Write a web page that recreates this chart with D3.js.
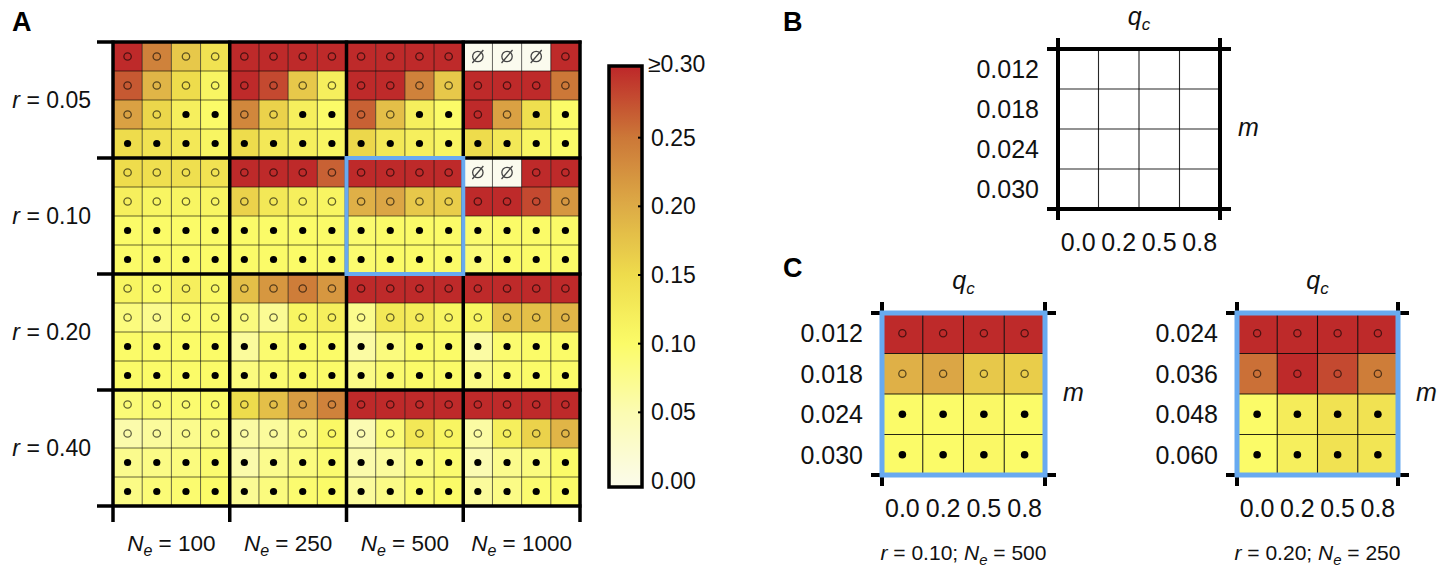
<!DOCTYPE html>
<html><head><meta charset="utf-8">
<script src="https://cdn.jsdelivr.net/npm/d3@7"></script>
<style>
body{margin:0;background:#fff}
svg{display:block}
text{font-family:"Liberation Sans",Arial,Helvetica,sans-serif;fill:#111}
</style>
</head><body><svg id="c" width="1446" height="572"></svg>
<script>
// ---------- data ----------
const rLabels = ["0.05","0.10","0.20","0.40"];
const neLabels = ["100","250","500","1000"];
const qcLabels = ["0.0","0.2","0.5","0.8"];
const mLabelsB = ["0.012","0.018","0.024","0.030"];
const mLabelsC1 = ["0.012","0.018","0.024","0.030"];
const mLabelsC2 = ["0.024","0.036","0.048","0.060"];
const titleC1 = {r:"0.10", ne:"500"};
const titleC2 = {r:"0.20", ne:"250"};
const colorTicks = [0,0.05,0.10,0.15,0.20,0.25,0.30];
const colorTickLabels = ["0.00","0.05","0.10","0.15","0.20","0.25","\u22650.30"];
const colorRange = ["#fbfbe6","#fbfbb2","#fbfb68","#eedc4c","#ddab46","#cc7838","#be2a2a"];

// r = 0.05 (rows: m levels; columns: Ne blocks x qc)
const valuesR005 = [
 [0.30,0.24,0.17,0.14, 0.31,0.31,0.31,0.30, 0.31,0.31,0.31,0.31, null,null,null,0.31],
 [0.27,0.19,0.15,0.11, 0.30,0.28,0.17,0.12, 0.31,0.30,0.24,0.17, 0.31,0.31,0.30,0.25],
 [0.21,0.155,0.12,0.10, 0.235,0.16,0.12,0.10, 0.265,0.18,0.12,0.10, 0.30,0.21,0.145,0.10],
 [0.15,0.14,0.13,0.11, 0.15,0.13,0.12,0.11, 0.155,0.13,0.12,0.11, 0.15,0.13,0.11,0.10]
];
const valuesR010 = [
 [0.15,0.145,0.145,0.14, 0.31,0.31,0.30,0.265, 0.31,0.31,0.31,0.31, null,null,0.31,0.31],
 [0.12,0.11,0.11,0.11, 0.16,0.13,0.12,0.11, 0.195,0.205,0.17,0.165, 0.31,0.31,0.28,0.22],
 [0.10,0.10,0.10,0.10, 0.10,0.10,0.10,0.10, 0.095,0.10,0.10,0.10, 0.095,0.10,0.10,0.10],
 [0.10,0.10,0.10,0.10, 0.10,0.10,0.10,0.10, 0.095,0.10,0.10,0.10, 0.09,0.10,0.10,0.10]
];
const valuesR020 = [
 [0.11,0.10,0.12,0.105, 0.18,0.22,0.245,0.22, 0.31,0.31,0.31,0.31, 0.31,0.31,0.31,0.31],
 [0.085,0.075,0.095,0.095, 0.085,0.07,0.11,0.12, 0.075,0.13,0.125,0.11, 0.11,0.18,0.18,0.19],
 [0.10,0.10,0.10,0.10, 0.065,0.095,0.10,0.10, 0.06,0.085,0.10,0.10, 0.06,0.095,0.10,0.10],
 [0.10,0.10,0.10,0.10, 0.085,0.095,0.10,0.10, 0.08,0.095,0.10,0.10, 0.08,0.095,0.10,0.10]
];
const valuesR040 = [
 [0.09,0.095,0.095,0.10, 0.15,0.18,0.215,0.24, 0.31,0.31,0.31,0.31, 0.31,0.31,0.31,0.31],
 [0.055,0.065,0.075,0.085, 0.06,0.065,0.08,0.105, 0.05,0.09,0.13,0.11, 0.06,0.12,0.16,0.19],
 [0.075,0.08,0.085,0.095, 0.055,0.075,0.085,0.095, 0.055,0.065,0.085,0.095, 0.05,0.075,0.085,0.10],
 [0.08,0.09,0.095,0.10, 0.07,0.085,0.095,0.10, 0.065,0.08,0.095,0.10, 0.065,0.08,0.095,0.10]
];
// markers: o = open circle, f = filled dot, n = no data
const markersR005 = ["oooooooooooonnno","oooooooooooooooo","ooffooffooffooff","ffffffffffffffff"];
const markersR010 = ["oooooooooooonnoo","oooooooooooooooo","ffffffffffffffff","ffffffffffffffff"];
const markersR020 = ["oooooooooooooooo","oooooooooooooooo","ffffffffffffffff","ffffffffffffffff"];
const markersR040 = ["oooooooooooooooo","oooooooooooooooo","ffffffffffffffff","ffffffffffffffff"];

// panel C
const valuesC1 = [
 [0.31,0.31,0.31,0.31],
 [0.195,0.205,0.17,0.165],
 [0.10,0.10,0.105,0.10],
 [0.10,0.10,0.105,0.10]
];
const valuesC2 = [
 [0.31,0.31,0.31,0.31],
 [0.255,0.31,0.28,0.245],
 [0.10,0.125,0.14,0.14],
 [0.10,0.12,0.14,0.135]
];
const markersC = ["oooo","oooo","ffff","ffff"];

// ---------- drawing ----------
const svg = d3.select("#c");
const color = d3.scaleLinear().domain(colorTicks).range(colorRange).clamp(true);
const nullColor = "#fbfbee";
const BLUE = "#68aaf0";

function drawMarkers(g, data, cx, cy, sizes){
  data.forEach(d=>{
    const X = cx(d), Y = cy(d);
    if(d.mk==="o"){
      g.append("circle").attr("cx",X).attr("cy",Y).attr("r",sizes.o)
        .attr("fill","none").attr("stroke","#000").attr("stroke-opacity",0.6).attr("stroke-width",1.3);
    } else if(d.mk==="f"){
      g.append("circle").attr("cx",X).attr("cy",Y).attr("r",sizes.f).attr("fill","#000");
    } else if(d.mk==="n"){
      g.append("circle").attr("cx",X).attr("cy",Y).attr("r",5.2)
        .attr("fill","none").attr("stroke","#444").attr("stroke-width",1.3);
      g.append("line").attr("x1",X-5.5).attr("y1",Y+6.5).attr("x2",X+5.5).attr("y2",Y-6.5)
        .attr("stroke","#444").attr("stroke-width",1.3);
    }
  });
}

// ===== Panel A =====
const allValues = [].concat(valuesR005, valuesR010, valuesR020, valuesR040);
const allMarkers = [].concat(markersR005, markersR010, markersR020, markersR040);
const cellsA = [];
allValues.forEach((row,i)=>row.forEach((v,j)=>cellsA.push({i,j,v,mk:allMarkers[i][j]})));

const ax0=113, ax1=580, ay0=42, ay1=506;
const xA = d3.scaleBand().domain(d3.range(16)).range([ax0,ax1]);
const yA = d3.scaleBand().domain(d3.range(16)).range([ay0,ay1]);
const xBlock = d3.scaleLinear().domain([0,4]).range([ax0,ax1]);
const yBlock = d3.scaleLinear().domain([0,4]).range([ay0,ay1]);

const gA = svg.append("g");
gA.selectAll("rect.cell").data(cellsA).join("rect")
  .attr("x",d=>xA(d.j)).attr("y",d=>yA(d.i))
  .attr("width",xA.bandwidth()).attr("height",yA.bandwidth())
  .attr("fill",d=>d.v==null?nullColor:color(d.v));
d3.range(1,16).forEach(k=>{
  gA.append("line").attr("x1",xA(k)).attr("x2",xA(k)).attr("y1",ay0).attr("y2",ay1)
    .attr("stroke","#000").attr("stroke-opacity",0.6).attr("stroke-width",1);
  gA.append("line").attr("y1",yA(k)).attr("y2",yA(k)).attr("x1",ax0).attr("x2",ax1)
    .attr("stroke","#000").attr("stroke-opacity",0.6).attr("stroke-width",1);
});
drawMarkers(gA, cellsA, d=>xA(d.j)+xA.bandwidth()/2, d=>yA(d.i)+yA.bandwidth()/2, {o:3.7,f:3.6});
d3.range(0,5).forEach(k=>{
  gA.append("line").attr("x1",xBlock(k)).attr("x2",xBlock(k)).attr("y1",ay0-1.5).attr("y2",ay1+16)
    .attr("stroke","#000").attr("stroke-width",3.5);
  gA.append("line").attr("y1",yBlock(k)).attr("y2",yBlock(k)).attr("x1",ax0-16).attr("x2",ax1+1.5)
    .attr("stroke","#000").attr("stroke-width",3.5);
});
gA.append("rect").attr("x",xBlock(2)).attr("y",yBlock(1))
  .attr("width",xBlock(3)-xBlock(2)).attr("height",yBlock(2)-yBlock(1))
  .attr("fill","none").attr("stroke",BLUE).attr("stroke-width",4);

rLabels.forEach((r,k)=>{
  const t = gA.append("text").attr("x",91).attr("y",(yBlock(k)+yBlock(k+1))/2+8)
    .attr("text-anchor","end").style("font-size","23px");
  t.append("tspan").style("font-style","italic").text("r");
  t.append("tspan").text(" = "+r);
});
neLabels.forEach((n,k)=>{
  const t = gA.append("text").attr("x",(xBlock(k)+xBlock(k+1))/2).attr("y",551)
    .attr("text-anchor","middle").style("font-size","22.5px");
  t.append("tspan").style("font-style","italic").text("N");
  t.append("tspan").style("font-style","italic").style("font-size","16px").attr("dy",5).text("e");
  t.append("tspan").attr("dy",-5).text(" = "+n);
});

// colorbar
const cbX=609, cbW=33, cbTop=66, cbBot=487;
const yCb = d3.scaleLinear().domain([0,0.30]).range([481,69]);
const defs = svg.append("defs");
const grad = defs.append("linearGradient").attr("id","cbg")
  .attr("x1",0).attr("y1",0).attr("x2",0).attr("y2",1);
d3.range(0,31).forEach(k=>{
  const v = 0.30 - k*0.01;
  grad.append("stop").attr("offset",(yCb(v)-cbTop)/(cbBot-cbTop)).attr("stop-color",color(v));
});
svg.append("rect").attr("x",cbX).attr("y",cbTop).attr("width",cbW).attr("height",cbBot-cbTop)
  .attr("fill","url(#cbg)");
colorTicks.slice(1,-1).forEach(v=>{
  svg.append("line").attr("x1",cbX+cbW-4).attr("x2",cbX+cbW).attr("y1",yCb(v)).attr("y2",yCb(v))
    .attr("stroke","#000").attr("stroke-width",2);
});
svg.append("rect").attr("x",cbX).attr("y",cbTop).attr("width",cbW).attr("height",cbBot-cbTop)
  .attr("fill","none").attr("stroke","#000").attr("stroke-width",3.5);
colorTicks.forEach((v,k)=>{
  const isTop = k===colorTicks.length-1;
  svg.append("text").attr("x",isTop?648:651).attr("y",yCb(v)+(isTop?3:8))
    .style("font-size","23px").text(colorTickLabels[k]);
});

[["A",12,31],["B",783,31],["C",783,277]].forEach(([s,x,y])=>{
  svg.append("text").attr("x",x).attr("y",y).style("font-size","27px").style("font-weight","bold")
    .style("fill","#000").text(s);
});

// ===== small grids (B, C) =====
function smallGrid(x0,y0,x1,y1,values,markers,mLabels,title,highlight){
  const g = svg.append("g");
  const x = d3.scaleBand().domain(d3.range(4)).range([x0,x1]);
  const y = d3.scaleBand().domain(d3.range(4)).range([y0,y1]);
  const cells=[];
  if(values) values.forEach((row,i)=>row.forEach((v,j)=>cells.push({i,j,v,mk:markers[i][j]})));
  g.selectAll("rect").data(cells).join("rect")
    .attr("x",d=>x(d.j)).attr("y",d=>y(d.i)).attr("width",x.bandwidth()).attr("height",y.bandwidth())
    .attr("fill",d=>color(d.v));
  d3.range(1,4).forEach(k=>{
    g.append("line").attr("x1",x(k)).attr("x2",x(k)).attr("y1",y0).attr("y2",y1)
      .attr("stroke","#000").attr("stroke-width",1.1).attr("stroke-opacity",0.85);
    g.append("line").attr("y1",y(k)).attr("y2",y(k)).attr("x1",x0).attr("x2",x1)
      .attr("stroke","#000").attr("stroke-width",1.1).attr("stroke-opacity",0.85);
  });
  drawMarkers(g, cells, d=>x(d.j)+x.bandwidth()/2, d=>y(d.i)+y.bandwidth()/2, {o:3.6,f:3.8});
  const ext=11;
  [x0,x1].forEach(xx=>g.append("line").attr("x1",xx).attr("x2",xx).attr("y1",y0-ext).attr("y2",y1+ext)
      .attr("stroke","#000").attr("stroke-width",4));
  [y0,y1].forEach(yy=>g.append("line").attr("y1",yy).attr("y2",yy).attr("x1",x0-ext).attr("x2",x1+ext)
      .attr("stroke","#000").attr("stroke-width",4));
  if(highlight){
    g.append("rect").attr("x",x0).attr("y",y0).attr("width",x1-x0).attr("height",y1-y0)
      .attr("fill","none").attr("stroke",BLUE).attr("stroke-width",5);
  }
  mLabels.forEach((m,k)=>{
    g.append("text").attr("x",x0-19).attr("y",y(k)+y.bandwidth()/2+9).attr("text-anchor","end")
      .style("font-size","25px").text(m);
  });
  qcLabels.forEach((q,k)=>{
    g.append("text").attr("x",x(k)+x.bandwidth()/2).attr("y",y1+42).attr("text-anchor","middle")
      .style("font-size","25px").text(q);
  });
  const qt = g.append("text").attr("x",(x0+x1)/2).attr("y",y0-24).attr("text-anchor","middle")
    .style("font-size","25px");
  qt.append("tspan").style("font-style","italic").text("q");
  qt.append("tspan").style("font-style","italic").style("font-size","17px").attr("dy",5).text("c");
  g.append("text").attr("x",x1+18).attr("y",(y0+y1)/2+7).style("font-size","25px")
    .style("font-style","italic").text("m");
  if(title){
    const t = g.append("text").attr("x",(x0+x1)/2).attr("y",560).attr("text-anchor","middle")
      .style("font-size","21px");
    t.append("tspan").style("font-style","italic").text("r");
    t.append("tspan").text(" = "+title.r+"; ");
    t.append("tspan").style("font-style","italic").text("N");
    t.append("tspan").style("font-style","italic").style("font-size","15px").attr("dy",5).text("e");
    t.append("tspan").attr("dy",-5).text(" = "+title.ne);
  }
}
smallGrid(1058,49,1220,209,null,null,mLabelsB,null,false);
smallGrid(882,313,1045,475,valuesC1,markersC,mLabelsC1,titleC1,true);
smallGrid(1237,313,1398,475,valuesC2,markersC,mLabelsC2,titleC2,true);
</script>
</body></html>
